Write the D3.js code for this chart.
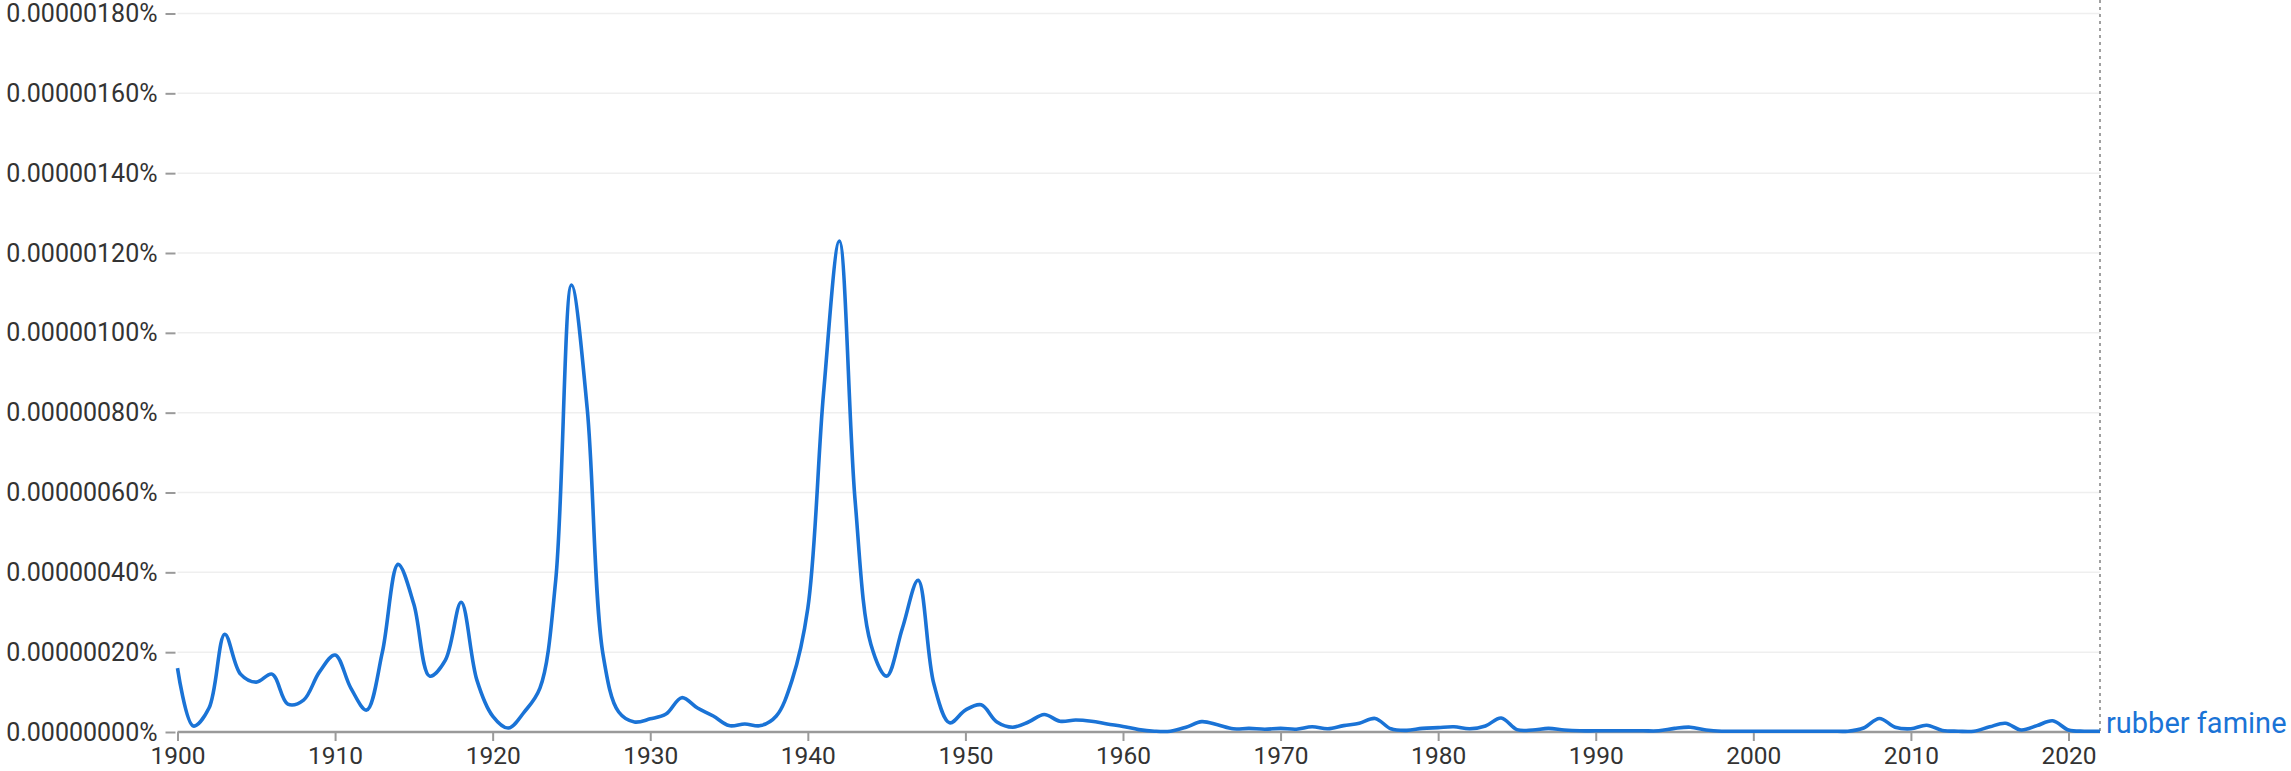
<!DOCTYPE html>
<html>
<head>
<meta charset="utf-8">
<script src="https://cdn.jsdelivr.net/npm/d3@7"></script>
<style>
  body { margin: 0; background: #fff; }
  text { font-family: Roboto, "Noto Sans", sans-serif; }
</style>
</head>
<body>
<div id="chart"></div>
<script>
// values in units of 0.00000001 %
var years = d3.range(1900, 2023);
var values = [
  16, 1.5, 6, 24.5, 14.5, 12.5, 14.5, 7, 8, 15,
  19.3, 11, 5.5, 20, 42, 32, 14, 18, 32.5, 13,
  4, 1, 5, 11, 38, 112, 81, 19.5, 5, 2.5,
  3.3, 4.5, 8.6, 6, 4, 1.6, 2, 1.6, 4, 13,
  31, 85, 123, 58, 22, 14, 26, 38, 12, 2.3,
  5.5, 6.8, 2.5, 1.2, 2.5, 4.4, 2.7, 3, 2.7, 2,
  1.4, 0.6, 0.2, 0.2, 1.2, 2.6, 1.8, 0.8, 0.9, 0.7,
  0.9, 0.7, 1.3, 0.8, 1.6, 2.2, 3.4, 0.8, 0.4, 0.9,
  1.1, 1.3, 0.8, 1.5, 3.5, 0.6, 0.5, 0.9, 0.5, 0.3,
  0.3, 0.3, 0.3, 0.3, 0.3, 0.9, 1.2, 0.5, 0.2, 0.2,
  0.2, 0.2, 0.2, 0.2, 0.2, 0.2, 0.2, 1.0, 3.4, 1.2,
  0.8, 1.7, 0.4, 0.2, 0.2, 1.3, 2.2, 0.5, 1.6, 2.8,
  0.5, 0.2, 0.2
];
var yTicks = d3.range(0, 181, 20);
var xTicks = d3.range(1900, 2021, 10);
var seriesName = "rubber famine";

var width = 2291, height = 771;
var margin = {top: 13.5, right: 191, bottom: 39, left: 177.5};
var blue = "#1a73d6";

var svg = d3.select("#chart").append("svg")
    .attr("width", width)
    .attr("height", height);

var x = d3.scaleLinear()
    .domain([1900, 2022])
    .range([margin.left, width - margin.right]);

var y = d3.scaleLinear()
    .domain([0, 180])
    .range([height - margin.bottom, margin.top]);

// gridlines
svg.append("g")
  .selectAll("line")
  .data(yTicks.filter(function (d) { return d > 0; }))
  .enter().append("line")
    .attr("x1", margin.left)
    .attr("x2", x(2022))
    .attr("y1", function (d) { return y(d); })
    .attr("y2", function (d) { return y(d); })
    .attr("stroke", "#efefef")
    .attr("stroke-width", 1.5);

// y axis
var yAxis = svg.append("g")
    .attr("transform", "translate(" + (margin.left - 2) + ",0)")
    .call(d3.axisLeft(y)
      .tickValues(yTicks)
      .tickSize(10)
      .tickPadding(8)
      .tickFormat(function (d) { return (d * 1e-8).toFixed(8) + "%"; }));
yAxis.select(".domain").remove();
yAxis.selectAll(".tick line").attr("stroke", "#9a9a9a").attr("stroke-width", 2);
yAxis.selectAll(".tick text")
    .attr("fill", "#333")
    .style("font-size", "25px");

// x axis
var xAxis = svg.append("g")
    .attr("transform", "translate(0," + y(0) + ")")
    .call(d3.axisBottom(x)
      .tickValues(xTicks)
      .tickSize(9)
      .tickPadding(6)
      .tickFormat(d3.format("d")));
xAxis.select(".domain")
    .attr("d", "M" + margin.left + ",0H" + x(2022))
    .attr("stroke", "#9a9a9a")
    .attr("stroke-width", 2.5);
xAxis.selectAll(".tick line").attr("stroke", "#9a9a9a").attr("stroke-width", 2);
xAxis.selectAll(".tick text")
    .attr("fill", "#333")
    .style("font-size", "24.5px");

// dotted line at end
svg.append("line")
    .attr("x1", x(2022))
    .attr("x2", x(2022))
    .attr("y1", 0)
    .attr("y2", y(0))
    .attr("stroke", "#a0a0a0")
    .attr("stroke-width", 2)
    .attr("stroke-dasharray", "3,4");

var data = years.map(function (yr, i) { return {year: yr, value: values[i]}; });

var line = d3.line()
    .x(function (d) { return x(d.year); })
    .y(function (d) { return y(d.value); })
    .curve(d3.curveCatmullRom.alpha(0.5));

svg.append("path")
    .datum(data)
    .attr("d", line)
    .attr("fill", "none")
    .attr("stroke", blue)
    .attr("stroke-width", 3.6)
    .attr("stroke-linejoin", "round");

var last = data[data.length - 1];
svg.append("text")
    .attr("x", x(last.year) + 6)
    .attr("y", y(last.value) + 2)
    .attr("fill", blue)
    .style("font-size", "29px")
    .text(seriesName);
</script>
</body>
</html>
